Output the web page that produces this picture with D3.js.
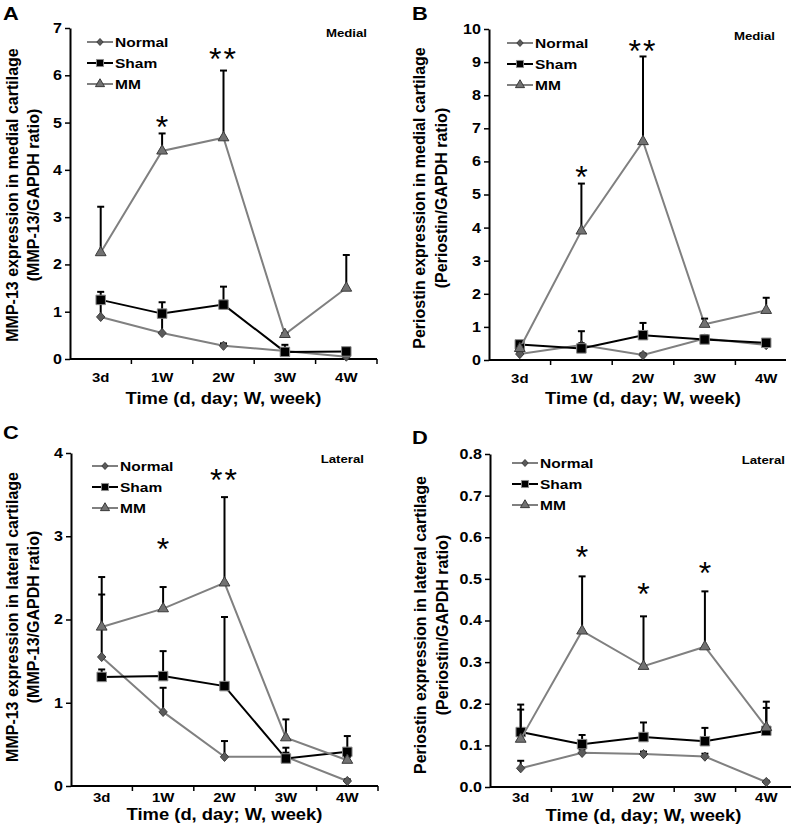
<!DOCTYPE html>
<html><head><meta charset="utf-8">
<script src="https://cdn.jsdelivr.net/npm/d3@7"></script>
<style>body{margin:0;background:#fff}svg{display:block}text{font-family:"Liberation Sans",Arial,sans-serif}</style>
</head><body>
<svg id="chart" width="800" height="835"></svg>
<script>
// ---------- data ----------
const categories = ["3d", "1W", "2W", "3W", "4W"];
const seriesNames = ["Normal", "Sham", "MM"];
const panelLetters = ["A", "B", "C", "D"];
const regionLabels = ["Medial", "Medial", "Lateral", "Lateral"];
const yTitleLine1 = ["MMP-13 expression in medial cartilage", "Periostin expression in medial cartilage",
                     "MMP-13 expression in lateral cartilage", "Periostin expression in lateral cartilage"];
const yTitleLine2 = ["(MMP-13/GAPDH ratio)", "(Periostin/GAPDH ratio)", "(MMP-13/GAPDH ratio)", "(Periostin/GAPDH ratio)"];
const xTitle = "Time (d, day; W, week)";
const yMaxes = [7, 10, 4, 0.8];
const yTickSteps = [1, 1, 1, 0.1];
const yTickFormats = ["d", "d", "d", ".1f"];

// Panel A: MMP-13 medial (mean, upper error bar end)
const normalA = [0.89, 0.55, 0.28, 0.17, 0.05];
const normalErrA = [1.2, 0.95, 0.33, 0.2, 0.07];
const shamA = [1.25, 0.96, 1.15, 0.15, 0.16];
const shamErrA = [1.42, 1.2, 1.53, 0.3, 0.18];
const mmA = [2.25, 4.4, 4.68, 0.52, 1.5];
const mmErrA = [3.22, 4.77, 6.1, 0.55, 2.2];
// Panel B: Periostin medial
const normalB = [0.18, 0.45, 0.15, 0.65, 0.45];
const normalErrB = [0.25, 0.87, 0.2, 0.75, 0.5];
const shamB = [0.47, 0.35, 0.75, 0.62, 0.52];
const shamErrB = [0.55, 0.5, 1.12, 0.7, 0.55];
const mmB = [0.35, 3.9, 6.6, 1.08, 1.5];
const mmErrB = [0.45, 5.33, 9.17, 1.25, 1.88];
// Panel C: MMP-13 lateral
const normalC = [1.55, 0.89, 0.35, 0.35, 0.06];
const normalErrC = [2.3, 1.18, 0.54, 0.4, 0.08];
const shamC = [1.31, 1.32, 1.2, 0.33, 0.41];
const shamErrC = [1.4, 1.62, 2.03, 0.46, 0.6];
const mmC = [1.91, 2.13, 2.44, 0.58, 0.31];
const mmErrC = [2.51, 2.39, 3.47, 0.8, 0.35];
// Panel D: Periostin lateral
const normalD = [0.045, 0.082, 0.079, 0.073, 0.012];
const normalErrD = [0.063, 0.09, 0.085, 0.08, 0.015];
const shamD = [0.132, 0.103, 0.12, 0.11, 0.135];
const shamErrD = [0.198, 0.125, 0.155, 0.142, 0.19];
const mmD = [0.115, 0.375, 0.29, 0.337, 0.143];
const mmErrD = [0.186, 0.506, 0.41, 0.47, 0.205];

// significance marks: category, value level (centre), label
const starsA = [["1W", 5.0, "*"], ["2W", 6.43, "**"]];
const starsB = [["1W", 5.65, "*"], ["2W", 9.46, "**"]];
const starsC = [["1W", 2.9, "*"], ["2W", 3.72, "**"]];
const starsD = [["1W", 0.562, "*"], ["2W", 0.474, "*"], ["3W", 0.524, "*"]];

const panelSeries = [
  [[normalA, normalErrA], [shamA, shamErrA], [mmA, mmErrA]],
  [[normalB, normalErrB], [shamB, shamErrB], [mmB, mmErrB]],
  [[normalC, normalErrC], [shamC, shamErrC], [mmC, mmErrC]],
  [[normalD, normalErrD], [shamD, shamErrD], [mmD, mmErrD]]
];
const panelStars = [starsA, starsB, starsC, starsD];

// ---------- layout / style ----------
const layout = [
  {left: 70, right: 377, axisEnd: 377, top: 28, bottom: 359, letter: [3, 20], t1: 18, t2: 39, tY: 195,
   legX: 87, legY: 42, regX: 367, regY: 37, tickY: 382, xtY: 404},
  {left: 489, right: 797, axisEnd: 786, top: 29, bottom: 360, letter: [412, 20], t1: 425, t2: 447, tY: 198,
   legX: 507, legY: 43, regX: 775, regY: 40, tickY: 383, xtY: 404},
  {left: 71, right: 378, axisEnd: 378, top: 453, bottom: 786, letter: [3, 439], t1: 18, t2: 39, tY: 617,
   legX: 92, legY: 466, regX: 364, regY: 463, tickY: 802, xtY: 820},
  {left: 490, right: 797, axisEnd: 791, top: 454, bottom: 787, letter: [412, 444], t1: 426, t2: 448, tY: 625,
   legX: 512, legY: 463, regX: 785, regY: 464, tickY: 802, xtY: 821}
];
const SX = 1.15; // horizontal stretch of the original figure's text
const legendGap = 21;

const diamond = {draw(ctx, size) { const r = Math.sqrt(size) / 2; ctx.moveTo(0, -r * 1.1); ctx.lineTo(r, 0); ctx.lineTo(0, r * 1.1); ctx.lineTo(-r, 0); ctx.closePath(); }};
const styles = [
  {line: "#808080", fill: "#5a5a5a", stroke: "#3c3c3c", type: diamond, size: 70, lsize: 40},
  {line: "#000000", fill: "#000000", stroke: "#8a8a8a", type: d3.symbolSquare, size: 90, lsize: 50},
  {line: "#808080", fill: "#727272", stroke: "#3a3a3a", type: d3.symbolTriangle, size: 50, lsize: 36}
];

const svg = d3.select("#chart");

function hText(parent, x, y, str, size, anchor, weight, fill) {
  return parent.append("g").attr("transform", `translate(${x},${y}) scale(${SX},1)`)
    .append("text").attr("text-anchor", anchor).attr("font-size", size)
    .attr("font-weight", weight || "bold").attr("fill", fill || "#000").text(str);
}

panelLetters.forEach((letter, p) => {
  const L = layout[p];
  const g = svg.append("g");
  const x = d3.scaleBand().domain(categories).range([L.left, L.right]);
  const y = d3.scaleLinear().domain([0, yMaxes[p]]).range([L.bottom, L.top]);
  const cx = c => x(c) + x.bandwidth() / 2;

  // panel letter
  hText(g, L.letter[0], L.letter[1], letter, 19, "start");

  // y axis
  const ticks = d3.range(0, yMaxes[p] + yTickSteps[p] / 2, yTickSteps[p]);
  const ya = g.append("g").attr("transform", `translate(${L.left},0)`)
    .call(d3.axisLeft(y).tickValues(ticks).tickFormat(d3.format(yTickFormats[p])).tickSize(5).tickPadding(2).tickSizeOuter(0));
  ya.select(".domain").attr("stroke-width", 2);
  ya.selectAll(".tick line").attr("stroke-width", 1.5);
  ya.selectAll(".tick text").attr("font-size", 14).attr("font-weight", "bold").attr("fill", "#000")
    .attr("font-family", '"Liberation Sans",Arial,sans-serif')
    .attr("transform", `scale(${SX},1)`);

  // x axis
  const xa = g.append("g").attr("transform", `translate(0,${L.bottom})`)
    .call(d3.axisBottom(x).tickSize(0).tickPadding(0).tickSizeOuter(0));
  xa.select(".domain").attr("d", `M${L.left},0H${L.axisEnd}`).attr("stroke-width", 2);
  xa.selectAll(".tick text").remove();
  const bounds = categories.slice(1).map(c => x(c)).concat([L.right]).filter(v => v <= L.axisEnd + 0.5);
  xa.selectAll("line.bt").data(bounds).join("line").attr("class", "bt")
    .attr("x1", d => d).attr("x2", d => d).attr("y1", 0).attr("y2", 5)
    .attr("stroke", "#000").attr("stroke-width", 1.5);
  categories.forEach(c => hText(g, cx(c), L.tickY, c, 13, "middle"));

  // axis titles
  hText(g, (L.left + L.right) / 2, L.xtY, xTitle, 16, "middle");
  [[yTitleLine1[p], L.t1], [yTitleLine2[p], L.t2]].forEach(([t, bx]) => {
    g.append("text").attr("transform", `translate(${bx},${L.tY}) rotate(-90)`)
      .attr("text-anchor", "middle").attr("font-size", 16).attr("font-weight", "bold").text(t);
  });

  // region label
  hText(g, L.regX, L.regY, regionLabels[p], 11.5, "end");

  // series
  panelSeries[p].forEach(([vals, errs], s) => {
    const st = styles[s];
    const pts = categories.map((c, i) => [cx(c), y(vals[i]), y(errs[i])]);
    g.append("path").datum(pts).attr("fill", "none").attr("stroke", st.line).attr("stroke-width", 2)
      .attr("d", d3.line().x(d => d[0]).y(d => d[1]));
    const eb = g.append("g").attr("stroke", "#000").attr("stroke-width", 2);
    pts.forEach(d => {
      eb.append("line").attr("x1", d[0]).attr("x2", d[0]).attr("y1", d[1]).attr("y2", d[2]);
      eb.append("line").attr("x1", d[0] - 3.5).attr("x2", d[0] + 3.5).attr("y1", d[2]).attr("y2", d[2]);
    });
    g.append("g").selectAll("path").data(pts).join("path")
      .attr("transform", d => `translate(${d[0]},${d[1]})`)
      .attr("d", d3.symbol().type(st.type).size(st.size))
      .attr("fill", st.fill).attr("stroke", st.stroke).attr("stroke-width", 1);
  });

  // stars
  panelStars[p].forEach(([c, v, label]) => {
    g.append("text").attr("x", cx(c)).attr("y", y(v) + 15)
      .attr("text-anchor", "middle").attr("font-size", 32).attr("letter-spacing", label.length > 1 ? 2 : 0)
      .attr("font-family", '"DejaVu Sans",sans-serif').text(label);
  });

  // legend
  seriesNames.forEach((name, s) => {
    const st = styles[s];
    const ly = L.legY + s * legendGap;
    g.append("line").attr("x1", L.legX).attr("x2", L.legX + 26).attr("y1", ly).attr("y2", ly)
      .attr("stroke", st.line).attr("stroke-width", 2);
    g.append("path").attr("transform", `translate(${L.legX + 13},${ly})`)
      .attr("d", d3.symbol().type(st.type).size(st.lsize))
      .attr("fill", st.fill).attr("stroke", st.stroke).attr("stroke-width", 1);
    hText(g, L.legX + 28, ly + 5, name, 13.5, "start");
  });
});
</script>
</body></html>
